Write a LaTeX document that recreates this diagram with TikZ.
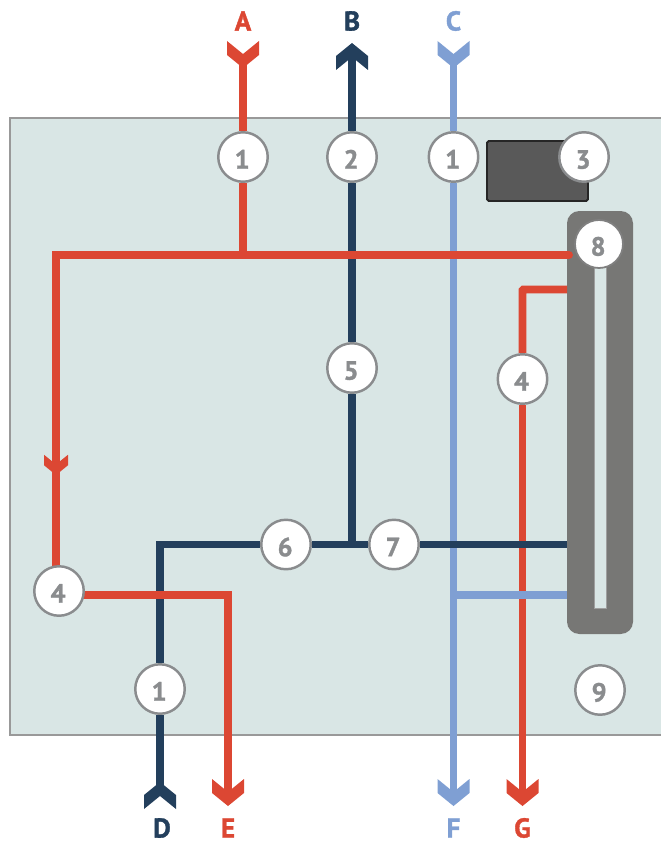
\documentclass[tikz,border=0pt]{standalone}
\usepackage{fontspec}
\setmainfont{PT Sans}
\newfontfamily\heavyfont[BoldFeatures={FakeBold=1.3}]{PT Sans}
\usepackage{tikz}
\definecolor{linered}{HTML}{DC4733}
\definecolor{linenavy}{HTML}{233F5C}
\definecolor{lineblue}{HTML}{7F9FD3}
\definecolor{boardfill}{HTML}{D9E6E5}
\definecolor{tagtext}{HTML}{8A8C8E}
\definecolor{framegray}{HTML}{777775}
\pgfdeclarelayer{board}
\pgfdeclarelayer{lines}
\pgfsetlayers{board,lines,main}
\tikzset{chevron/.pic={\path[pic actions] (0,0) -- (-16,-13) -- (-16,-27) -- (0,-14) -- (16,-27) -- (16,-13) -- cycle;}}
\def\drawred{\draw[color=linered, line width=4.5pt]}
\def\drawnavy{\draw[color=linenavy, line width=4.5pt]}
\def\drawblue{\draw[color=lineblue, line width=4.5pt]}
\def\tagnode{\node[circle,draw=tagtext,line width=1.4pt,fill=white,minimum size=0.99cm,inner sep=0pt,text=tagtext,text height=13.3pt,text depth=0pt,execute at end node=\kern1pt,font=\fontsize{15}{16}\heavyfont\bfseries]}
\def\portnode{\node[inner sep=0pt,font=\fontsize{15.5}{16}\heavyfont\bfseries]}

\begin{document}
\begin{tikzpicture}[x=0.02cm,y=-0.02cm]
\useasboundingbox (0,0) rectangle (661,841);
% numbered tags
\tagnode (oneA) at (243,157) {1};
\tagnode (two) at (352,157) {2};
\tagnode (oneC) at (453.5,157) {1};
\tagnode (three) at (584,157) {3};
\tagnode[draw=gray,line width=1pt,minimum size=0.96cm] (eight) at (599,244) {8};
\tagnode (five) at (352,368) {5};
\tagnode (fourG) at (522.5,379) {4};
\tagnode (six) at (286,544.5) {6};
\tagnode (seven) at (394,544.5) {7};
\tagnode (fourE) at (59,591) {4};
\tagnode (oneD) at (160,689) {1};
\tagnode (nine) at (600,690) {9};
% port letters
\portnode[text=linered] (portA) at (243,21) {A};
\portnode[text=linenavy] (portB) at (352,21) {B};
\portnode[text=lineblue] (portC) at (453.5,21) {C};
\portnode[text=linenavy] (portD) at (162,828) {D};
\portnode[text=linered] (portE) at (228,828) {E};
\portnode[text=lineblue] (portF) at (453.5,828) {F};
\portnode[text=linered] (portG) at (522.5,828) {G};
% line ends and bends
\coordinate (tipA) at (243,62);
\coordinate (tipB) at (352,52);
\coordinate (tipC) at (453.5,62);
\coordinate (tipD) at (160,790);
\coordinate (tipE) at (228,798);
\coordinate (tipF) at (453.5,798);
\coordinate (tipG) at (522.5,798);
\coordinate (redJoin) at (243,255);
\coordinate (redLeft) at (56,255);
\coordinate (redEnd) at (569,255);
\coordinate (redKnee) at (228,595);
\coordinate (redTop) at (522.5,289.5);
\coordinate (redStub) at (567,289.5);
\coordinate (navyKnee) at (160,544.5);
\coordinate (navyJoin) at (352,544.5);
\coordinate (navyEnd) at (567,544.5);
\coordinate (blueJoin) at (453.5,595);
\coordinate (blueEnd) at (567,595);
\begin{pgfonlayer}{board}
\draw[color=gray!80, line width=1pt, fill=boardfill] (10,118) rectangle (664,735);
\draw[color=black!85, line width=1.1pt, fill=black!65, rounded corners=1pt] (487,141) rectangle (588,201);
\fill[color=framegray, rounded corners=7pt] (567,211) rectangle (633,634);
\draw[color=gray!75, line width=0.4pt, fill=boardfill] (594,260) rectangle (606.5,608);
\end{pgfonlayer}
\begin{pgfonlayer}{lines}
% lowest first: the crossings depend on it
\drawred[rounded corners=0.6pt] (redStub) -- (redTop) -- (fourG);
\drawred (fourG) -- (tipG);
\pic[fill=linered] at (522.5,806) {chevron};
\drawblue (tipC) -- (oneC);
\drawblue (oneC) -- (tipF);
\drawblue (blueJoin) -- (blueEnd);
\pic[fill=lineblue] at (453.5,68) {chevron};
\pic[fill=lineblue] at (453.5,806) {chevron};
\drawnavy (tipB) -- (two);
\drawnavy (two) -- (five);
\drawnavy (five) -- (navyJoin);
\drawnavy (oneD) -- (navyKnee) -- (six);
\drawnavy (six) -- (seven);
\drawnavy (seven) -- (navyEnd);
\drawnavy (oneD) -- (tipD);
\pic[fill=linenavy,rotate=180] at (352,43) {chevron};
\pic[fill=linenavy,rotate=180] at (160,782) {chevron};
\drawred (tipA) -- (oneA);
\drawred (oneA) -- (redJoin);
\drawred (redJoin) -- (redLeft) -- (redLeft |- fourE);
\drawred[line cap=round] (redEnd) -- (redJoin);
\drawred (fourE |- redKnee) -- (redKnee) -- (tipE);
\pic[fill=linered] at (243,68) {chevron};
\pic[fill=linered,scale=0.75] at (56,475) {chevron};
\pic[fill=linered] at (228,806) {chevron};
\end{pgfonlayer}
\end{tikzpicture}
\end{document}
